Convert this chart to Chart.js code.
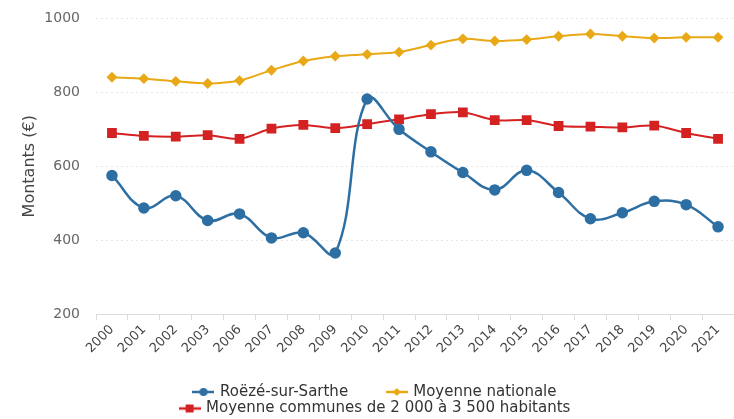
<!DOCTYPE html>
<html>
<head>
<meta charset="utf-8">
<script src="https://cdn.jsdelivr.net/npm/chart.js@4.4.1/dist/chart.umd.min.js"></script>
<style>
  html, body { margin: 0; padding: 0; background: #fff; }
  #wrap { width: 734px; height: 419px; position: relative; }
</style>
</head>
<body>
<div id="wrap"><canvas id="chart"></canvas></div>
<script>
// données (montants en €)
const years = ['2000', '2001', '2002', '2003', '2006', '2007', '2008', '2009', '2010', '2011',
               '2012', '2013', '2014', '2015', '2016', '2017', '2018', '2019', '2020', '2021'];
const roeze = [575, 487, 520, 453, 471, 406, 420, 365, 782, 700, 639, 583, 536, 589, 529, 458, 474, 505, 496, 436];
const nationale = [841, 837, 830, 824, 832, 860, 885, 898, 903, 909, 928, 945, 939, 943, 952, 958, 952, 947, 949, 949];
const strate = [690, 682, 680, 684, 674, 702, 712, 703, 714, 727, 741, 746, 725, 725, 709, 707, 705, 710, 690, 674];
const yTicks = [200, 400, 600, 800, 1000];

const BLUE = '#2d6fa3';
const YELLOW = '#e9a917';
const RED = '#d42222';
const FONT = "'DejaVu Sans', sans-serif";

// petite icône de légende : trait + marqueur
function legendIcon(color, style, r) {
    const c = document.createElement('canvas');
    c.width = 22; c.height = 12;
    const g = c.getContext('2d');
    g.strokeStyle = color; g.fillStyle = color; g.lineWidth = 2.5;
    g.beginPath(); g.moveTo(0, 6); g.lineTo(22, 6); g.stroke();
    g.beginPath();
    if (style === 'circle') g.arc(11, 6, r, 0, Math.PI * 2);
    else if (style === 'rect') g.rect(11 - r, 6 - r, 2 * r, 2 * r);
    else { g.moveTo(11, 6 - r); g.lineTo(11 + r, 6); g.lineTo(11, 6 + r); g.lineTo(11 - r, 6); g.closePath(); }
    g.fill();
    return c;
}

const icons = [legendIcon(BLUE, 'circle', 4), legendIcon(YELLOW, 'diamond', 4), legendIcon(RED, 'rect', 4)];

new Chart(document.getElementById('chart'), {
    type: 'line',
    data: {
        labels: years,
        datasets: [
            { label: 'Roëzé-sur-Sarthe', data: roeze, borderColor: BLUE, backgroundColor: BLUE,
              borderWidth: 2.5, pointStyle: 'circle', pointRadius: 4.5, tension: 0.4 },
            { label: 'Moyenne nationale', data: nationale, borderColor: YELLOW, backgroundColor: YELLOW,
              borderWidth: 2, pointStyle: 'rectRot', pointRadius: 4, tension: 0.3 },
            { label: 'Moyenne communes de 2 000 à 3 500 habitants', data: strate, borderColor: RED, backgroundColor: RED,
              borderWidth: 2, pointStyle: 'rect', pointRadius: 5.5, tension: 0.3 }
        ]
    },
    options: {
        responsive: true, maintainAspectRatio: false, animation: false,
        layout: { autoPadding: false, padding: { top: 18.5, left: 16, right: -1, bottom: -7 } },
        plugins: {
            legend: {
                position: 'bottom',
                labels: {
                    usePointStyle: true, pointStyleWidth: 18, padding: 1.5,
                    color: '#333', font: { family: FONT, size: 15 },
                    generateLabels: chart => chart.data.datasets.map((ds, i) => ({
                        text: i === 0 ? ds.label + '        ' : ds.label,
                        pointStyle: icons[i], fillStyle: ds.borderColor, strokeStyle: ds.borderColor,
                        lineWidth: 0, hidden: !chart.isDatasetVisible(i), datasetIndex: i, fontColor: '#333'
                    }))
                }
            },
            tooltip: { enabled: false }
        },
        scales: {
            y: {
                min: 200, max: 1000,
                afterBuildTicks: axis => { axis.ticks = yTicks.map(v => ({ value: v })); },
                afterFit: s => { s.width = 80; s.paddingTop = 0; s.paddingBottom = 0; },
                ticks: { color: '#666', font: { family: FONT, size: 14 }, padding: 16, callback: v => String(v) },
                grid: { color: '#e6e6e6', drawTicks: false },
                border: { display: false, dash: [2, 3] },
                title: { display: true, text: 'Montants (€)', color: '#444', font: { family: FONT, size: 16 }, padding: 4 }
            },
            x: {
                offset: true,
                afterFit: s => { s.height = 69; s.paddingLeft = 0; s.paddingRight = 0; },
                ticks: { color: '#444', font: { family: FONT, size: 13 }, minRotation: 45, maxRotation: 45, padding: 2, autoSkip: false },
                grid: { offset: true, drawOnChartArea: false, drawTicks: true, tickLength: 6, color: '#dcdcdc' },
                border: { display: true, color: '#dcdcdc' }
            }
        }
    }
});
</script>
</body>
</html>
